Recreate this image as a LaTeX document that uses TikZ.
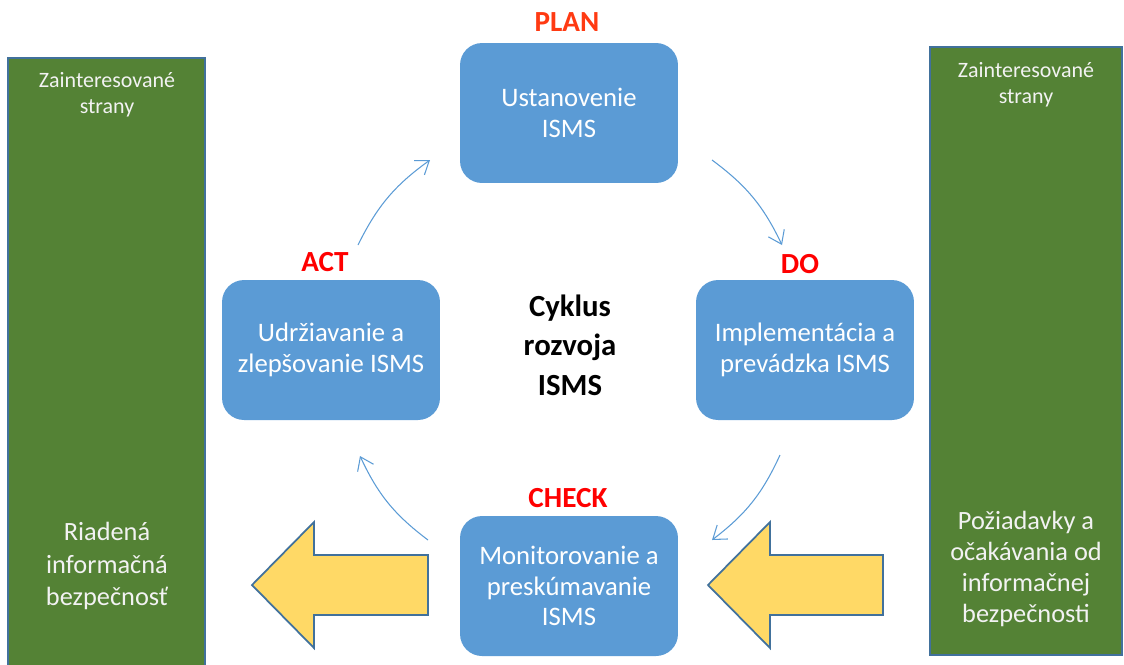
\documentclass[tikz,border=0pt]{standalone}
\usepackage{fontspec}
\setmainfont{Carlito}
\usepackage{xcolor}
\usetikzlibrary{arrows.meta}

\definecolor{stageblue}{HTML}{5B9BD5}
\definecolor{edgeblue}{HTML}{41719C}
\definecolor{partygreen}{HTML}{548235}
\definecolor{flowyellow}{HTML}{FFD966}
\definecolor{phasered}{HTML}{FF0000}
\definecolor{planred}{HTML}{FF3A12}

\tikzset{
	stage/.style={fill=stageblue, rounded corners=0.44cm, minimum width=4.36cm, minimum height=2.8cm, text=white, align=center, font=\fontsize{15.2}{17.5}\selectfont},
	phase/.style={text=phasered, font=\fontsize{16.6}{19}\selectfont\bfseries},
	party/.style={fill=partygreen, draw=edgeblue, line width=0.8pt},
	partytext/.style={text=white!95!black, align=center},
	turn/.style={draw=stageblue, line width=0.6pt, -{Straight Barb[length=7pt, width=10pt]}},
	flow/.style={fill=flowyellow, draw=edgeblue, line width=1pt, line join=miter}
}

\begin{document}
\begin{tikzpicture}[x=0.02cm, y=-0.02cm]
	\useasboundingbox (0,0) rectangle (1124,664);

	\draw [party] (8,58) rectangle (205,670);
	\draw [party] (930,47) rectangle (1122,655);
	\node [partytext, font=\fontsize{12.5}{14.8}\selectfont] (lefttop) at (107,95) {Zainteresované\\strany};
	\node [partytext, font=\fontsize{12.5}{14.8}\selectfont] (righttop) at (1026,85) {Zainteresované\\strany};
	\node [partytext, font=\fontsize{15}{18.3}\selectfont] (leftbottom) at (107,566) {Riadená\\informačná\\bezpečnosť};
	\node [partytext, font=\fontsize{15}{17.8}\selectfont] (rightbottom) at (1026,569) {Požiadavky a\\očakávania od\\informačnej\\bezpečnosti};

	\draw [flow] (252,585) -- (314,522) -- (314,555) -- (428,555) -- (428,615) -- (314,615) -- (314,648) -- cycle;
	\draw [flow] (708,585) -- (770,522) -- (770,555) -- (883,555) -- (883,615) -- (770,615) -- (770,648) -- cycle;

	\node [stage] (plan) at (569,113) {Ustanovenie\\ISMS};
	\node [stage] (do) at (805,350) {Implementácia a\\prevádzka ISMS};
	\node [stage] (check) at (569,586) {Monitorovanie a\\preskúmavanie\\ISMS};
	\node [stage] (act) at (331,350) {Udržiavanie a\\zlepšovanie ISMS};

	\node [phase, text=planred] (planlabel) at (567,22) {PLAN};
	\node [phase] (dolabel) at (800,264) {DO};
	\node [phase] (checklabel) at (568,498) {CHECK};
	\node [phase] (actlabel) at (325,262) {ACT};

	\node [font=\fontsize{17.5}{22.5}\selectfont\bfseries, align=center] (title) at (570,345) {Cyklus\\rozvoja\\ISMS};

	\coordinate (a1) at (358,245);
	\coordinate (a2) at (430,160);
	\coordinate (p1) at (712,160);
	\coordinate (p2) at (782,245);
	\coordinate (d1) at (780,455);
	\coordinate (d2) at (712,540);
	\coordinate (k1) at (428,540);
	\coordinate (k2) at (360,456);
	\draw [turn] (a1) to [bend left=14] (a2);
	\draw [turn] (p1) to [bend left=14] (p2);
	\draw [turn] (d1) to [bend left=14] (d2);
	\draw [turn] (k1) to [bend left=14] (k2);
\end{tikzpicture}
\end{document}
